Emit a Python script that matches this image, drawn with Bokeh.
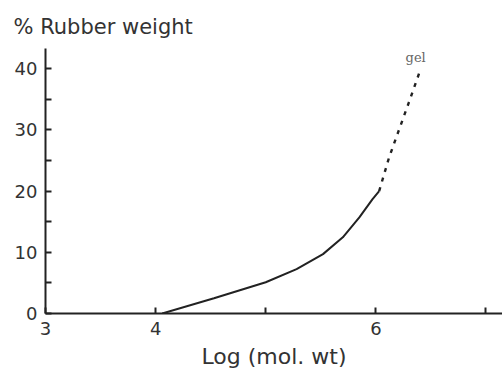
from bokeh.plotting import figure
from bokeh.models import Range1d, FixedTicker, Label
from bokeh.embed import file_html
from bokeh.resources import INLINE

# data
solid_x = [4.06, 4.53, 5.0, 5.28, 5.52, 5.70, 5.85, 5.97, 6.03]
solid_y = [0.0, 2.5, 5.1, 7.25, 9.7, 12.45, 15.7, 18.7, 20.0]
gel_x = [6.03, 6.12, 6.2, 6.3, 6.4]
gel_y = [20.0, 25.5, 29.5, 34.5, 39.6]
x_ticks = [3, 4, 5, 6, 7]
x_tick_labels = {3: "3", 4: "4", 5: "", 6: "6", 7: ""}
y_ticks = [0, 10, 20, 30, 40]
y_minor = [5, 15, 25, 35]
gel_label = "gel"
gel_pos = (6.27, 41.8)

FONT = "DejaVu Sans"
INK = "#222222"
TXT = "#333333"

p = figure(width=502, height=373, output_backend="svg", toolbar_location=None,
           x_range=Range1d(3, 7.15), y_range=Range1d(0, 43.3),
           min_border_left=45, min_border_right=0, min_border_top=48, min_border_bottom=60)
p.outline_line_color = None
p.grid.visible = False
p.background_fill_color = "white"

p.title.text = "% Rubber weight"
p.title.text_font = FONT
p.title.text_font_size = "21px"
p.title.text_font_style = "normal"
p.title.text_color = TXT
p.title.offset = -32
p.title.standoff = 19

for ax in (p.xaxis[0], p.yaxis[0]):
    ax.axis_line_color = INK
    ax.axis_line_width = 2
    ax.major_tick_line_color = INK
    ax.major_tick_line_width = 2
    ax.minor_tick_line_color = INK
    ax.minor_tick_line_width = 2
    ax.major_tick_in = 6
    ax.major_tick_out = 0
    ax.minor_tick_in = 6
    ax.minor_tick_out = 0
    ax.major_label_text_font = FONT
    ax.major_label_text_font_size = "18px"
    ax.major_label_text_color = TXT
    ax.major_label_standoff = 8

p.xaxis.ticker = FixedTicker(ticks=x_ticks)
p.xaxis.major_label_overrides = x_tick_labels
p.xaxis.axis_label = "Log (mol. wt)"
p.xaxis.axis_label_text_font = FONT
p.xaxis.axis_label_text_font_size = "22px"
p.xaxis.axis_label_text_font_style = "normal"
p.xaxis.axis_label_text_color = TXT
p.xaxis.axis_label_standoff = 6

p.yaxis.ticker = FixedTicker(ticks=y_ticks, minor_ticks=y_minor)

p.line(solid_x, solid_y, line_color=INK, line_width=2)
p.line(gel_x, gel_y, line_color=INK, line_width=2.4, line_dash="4 6")

p.add_layout(Label(x=gel_pos[0], y=gel_pos[1], text=gel_label,
                   text_font="DejaVu Serif", text_font_size="13px",
                   text_color="#666666", text_baseline="middle"))

open("out.html", "w").write(file_html(p, INLINE))
